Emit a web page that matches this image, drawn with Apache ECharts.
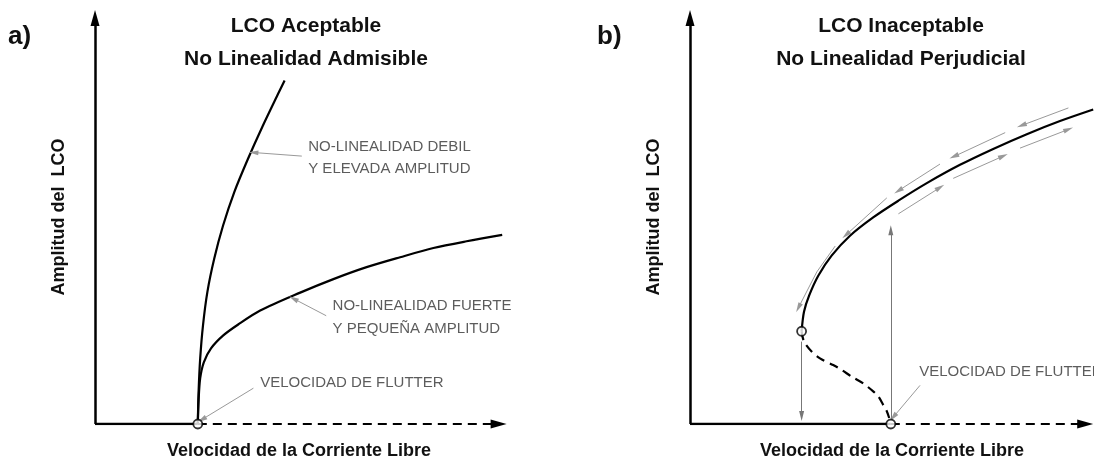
<!DOCTYPE html>
<html>
<head>
<meta charset="utf-8">
<script src="https://cdn.jsdelivr.net/npm/echarts@6/dist/echarts.min.js"></script>
<style>
  html, body { margin: 0; padding: 0; background: #fff; }
  #chart { width: 1094px; height: 465px; }
</style>
</head>
<body>
<div id="chart"></div>
<script>
// unidades arbitrarias: x = velocidad, y = amplitud del LCO

// ---- a) LCO aceptable ----
const aWeak = [[2.57,0],[2.59,0.82],[2.63,1.65],[2.7,2.48],[2.81,3.32],[2.98,4.15],[3.2,4.98],[3.48,5.82],[3.82,6.65],[4.19,7.48],[4.59,8.32],[4.74,8.63]];
const aStrong = [[2.57,0],[2.59,0.6],[2.63,1.15],[2.72,1.55],[2.9,1.9],[3.2,2.22],[3.58,2.5],[4.13,2.85],[5.13,3.3],[5.96,3.64],[6.79,3.94],[7.63,4.19],[8.46,4.42],[9.29,4.59],[10.18,4.75]];
const aFlutter = [2.57, 0];
const aYAxis = [[0,0],[0,10.2]];
const aSolid = [[0,0],[2.57,0]];
const aDashed = [[2.57,0],[10.09,0]];
const aPointers = [
  [[5.17,6.73],[3.96,6.82]],
  [[5.78,2.72],[4.96,3.15]],
  [[3.96,0.9],[2.67,0.11]]
];
const aNoteText = ['NO-LINEALIDAD DEBIL','Y ELEVADA AMPLITUD','NO-LINEALIDAD FUERTE','Y PEQUEÑA AMPLITUD','VELOCIDAD DE FLUTTER'];
const aNotePos = [[5.33,6.97],[5.33,6.42],[5.94,2.96],[5.94,2.4],[4.13,1.04]];

// ---- b) LCO inaceptable ----
const bUpper = [[2.79,2.33],[2.85,2.82],[2.98,3.23],[3.21,3.73],[3.54,4.23],[4.0,4.73],[4.58,5.19],[5.21,5.61],[5.92,6.05],[6.75,6.51],[7.58,6.91],[8.42,7.28],[9.25,7.61],[10.08,7.9]];
const bLower = [[2.79,2.33],[2.85,2.07],[3.04,1.82],[3.25,1.65],[3.58,1.48],[3.79,1.36],[4.04,1.19],[4.33,1.02],[4.58,0.82],[4.71,0.69],[4.83,0.48],[4.92,0.32],[4.98,0.15]];
const bTurn = [2.79, 2.33];
const bFlutter = [5.02, 0];
const bYAxis = [[0,0],[0,10.2]];
const bSolid = [[0,0],[5.02,0]];
const bDashed = [[5.02,0],[9.88,0]];
const bJumps = [
  [[2.79,2.07],[2.79,0.2]],
  [[5.02,0.1],[5.02,4.87]]
];
const bPointers = [[[5.75,0.97],[5.08,0.17]]];
const bFlowDown = [
  [[9.46,7.94],[8.29,7.5]],
  [[7.88,7.32],[6.6,6.72]],
  [[6.25,6.53],[5.21,5.86]],
  [[4.92,5.68],[3.9,4.75]]
];
const bFlowDownCurved = [[3.63,4.47],[3.17,3.82],[2.71,2.92]];
const bFlowUp = [
  [[5.21,5.28],[6.25,5.94]],
  [[6.58,6.17],[7.83,6.73]],
  [[8.25,6.93],[9.46,7.4]]
];
const bNoteText = ['VELOCIDAD DE FLUTTER'];
const bNotePos = [[5.73,1.3]];

const font = 'Liberation Sans, Arial, Helvetica, sans-serif';

function arrows(list, color, size, head) {
  return list.map(function (seg) {
    return [
      { coord: seg[0], symbol: 'none', lineStyle: { color: color, width: 1, type: 'solid' } },
      { coord: seg[1], symbol: head === false ? 'none' : 'triangle', symbolSize: size, itemStyle: { color: '#222' } }
    ];
  });
}

function notes(texts, pos, idx) {
  return {
    type: 'scatter', xAxisIndex: idx, yAxisIndex: idx,
    symbolSize: 0, itemStyle: { color: 'transparent' }, silent: true,
    label: {
      show: true, position: 'right', distance: 0,
      formatter: function (p) { return p.name; },
      fontFamily: font, fontSize: 15, color: '#333'
    },
    data: texts.map(function (t, i) { return { name: t, value: pos[i] }; })
  };
}

function curve(data, idx, dashed, extra) {
  return Object.assign({
    type: 'line', xAxisIndex: idx, yAxisIndex: idx,
    data: data, smooth: 0.3, showSymbol: false, silent: true,
    lineStyle: { color: '#000', width: 2.2, type: dashed ? [9, 6] : 'solid' }
  }, extra || {});
}

function openCircle(points, idx) {
  return {
    type: 'scatter', xAxisIndex: idx, yAxisIndex: idx, z: 10, silent: true,
    symbol: 'circle', symbolSize: 9,
    itemStyle: { color: '#fff', borderColor: '#000', borderWidth: 1.8 },
    data: points
  };
}

function axisMarks(yAxis, dashed) {
  return {
    silent: true,
    label: { show: false },
    data: [
      [{ coord: yAxis[0], symbol: 'none', lineStyle: { color: '#000', width: 2.5, type: 'solid' } },
       { coord: yAxis[1], symbol: 'triangle', symbolSize: [9, 16], itemStyle: { color: '#000' } }],
      [{ coord: dashed[0], symbol: 'none', lineStyle: { color: '#000', width: 2.2, type: [9, 6] } },
       { coord: dashed[1], symbol: 'triangle', symbolSize: [9, 16], itemStyle: { color: '#000' } }]
    ]
  };
}

const titleStyle = function (size) {
  return { fontFamily: font, fontSize: size, fontWeight: 'bold', color: '#111', lineHeight: size };
};

const axisName = { fontFamily: font, fontSize: 18, fontWeight: 'bold', color: '#111' };
const hidden = { axisLine: { show: false }, axisTick: { show: false }, axisLabel: { show: false }, splitLine: { show: false } };

const chart = echarts.init(document.getElementById('chart'));
chart.setOption({
  animation: false,
  backgroundColor: '#fff',
  title: [
    { text: 'a)', left: 8, top: 24, padding: 0, textStyle: titleStyle(26) },
    { text: 'LCO Aceptable', left: 306, top: 16, padding: 0, textAlign: 'center', textStyle: titleStyle(21) },
    { text: 'No Linealidad Admisible', left: 306, top: 49, padding: 0, textAlign: 'center', textStyle: titleStyle(21) },
    { text: 'b)', left: 597, top: 24, padding: 0, textStyle: titleStyle(26) },
    { text: 'LCO Inaceptable', left: 901, top: 16, padding: 0, textAlign: 'center', textStyle: titleStyle(21) },
    { text: 'No Linealidad Perjudicial', left: 901, top: 49, padding: 0, textAlign: 'center', textStyle: titleStyle(21) }
  ],
  grid: [
    { left: 95, top: 10, width: 408, height: 416 },
    { left: 690, top: 10, width: 404, height: 416 }
  ],
  xAxis: [
    Object.assign({ type: 'value', gridIndex: 0, min: 0, max: 10.2, name: 'Velocidad de la Corriente Libre', nameLocation: 'middle', nameGap: 18, nameTextStyle: axisName }, hidden),
    Object.assign({ type: 'value', gridIndex: 1, min: 0, max: 10.1, name: 'Velocidad de la Corriente Libre', nameLocation: 'middle', nameGap: 18, nameTextStyle: axisName }, hidden)
  ],
  yAxis: [
    Object.assign({ type: 'value', gridIndex: 0, min: 0, max: 10.4, name: 'Amplitud del  LCO', nameLocation: 'middle', nameRotate: 90, nameGap: 27, nameTextStyle: axisName }, hidden),
    Object.assign({ type: 'value', gridIndex: 1, min: 0, max: 10.4, name: 'Amplitud del  LCO', nameLocation: 'middle', nameRotate: 90, nameGap: 27, nameTextStyle: axisName }, hidden)
  ],
  series: [
    // ----- a -----
    curve(aSolid, 0, false, { lineStyle: { color: '#000', width: 2.5 }, markLine: axisMarks(aYAxis, aDashed) }),
    curve(aWeak, 0, false),
    curve(aStrong, 0, false, {
      markLine: { silent: true, label: { show: false }, data: arrows(aPointers, '#999', [5, 10]) }
    }),
    openCircle([aFlutter], 0),
    notes(aNoteText, aNotePos, 0),
    // ----- b -----
    curve(bSolid, 1, false, { lineStyle: { color: '#000', width: 2.5 }, markLine: axisMarks(bYAxis, bDashed) }),
    curve(bUpper, 1, false, {
      markLine: {
        silent: true, label: { show: false },
        data: arrows(bFlowDown, '#999', [5, 10])
          .concat(arrows(bFlowUp, '#999', [5, 10]))
          .concat(arrows([[bFlowDownCurved[0], bFlowDownCurved[1]]], '#999', [5, 10], false))
          .concat(arrows([[bFlowDownCurved[1], bFlowDownCurved[2]]], '#999', [5, 10]))
      }
    }),
    curve(bLower, 1, true, {
      markLine: {
        silent: true, label: { show: false },
        data: arrows(bJumps, '#777', [5, 10]).concat(arrows(bPointers, '#999', [5, 10]))
      }
    }),
    openCircle([bTurn, bFlutter], 1),
    notes(bNoteText, bNotePos, 1)
  ]
});
</script>
</body>
</html>
